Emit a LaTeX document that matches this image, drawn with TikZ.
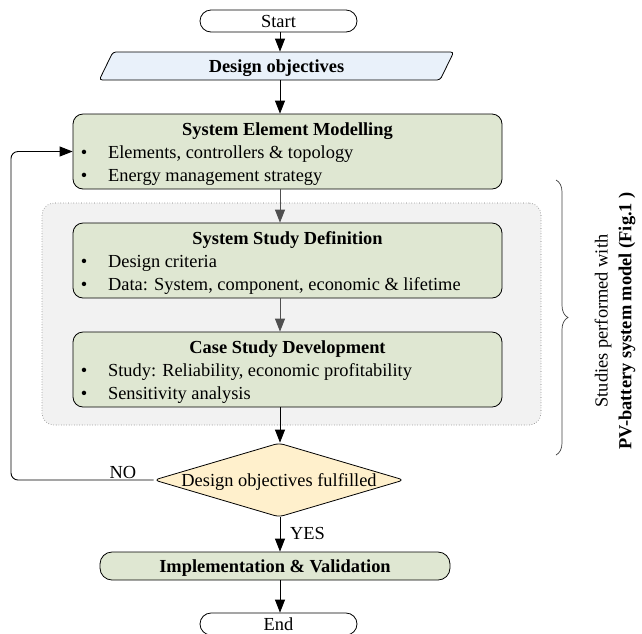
\documentclass[tikz,border=0pt]{standalone}
\usepackage{fontspec}
\setmainfont{Liberation Serif}
\usetikzlibrary{positioning,shapes.geometric,arrows.meta,decorations.pathreplacing}

\definecolor{stagegreen}{HTML}{DFE7D2}
\definecolor{objblue}{HTML}{E9F1FA}
\definecolor{checkyellow}{HTML}{FFF0CC}
\definecolor{groupgray}{HTML}{F2F2F2}
\definecolor{arrowgray}{HTML}{505050}

\newcommand{\mainsize}{\fontsize{18.4}{22}\selectfont}
\newcommand{\itemdot}{\makebox[27.3pt][l]{\textbullet}}

\tikzset{
  terminal/.style={draw, line width=0.8pt, rounded corners=11pt, minimum width=157pt, minimum height=22pt, inner sep=0pt, text height=13pt, text depth=1pt},
  objshape/.style={draw, line width=0.8pt, fill=objblue, trapezium, trapezium left angle=68, trapezium right angle=112, trapezium stretches=true, minimum width=355pt, minimum height=28pt, inner sep=0pt, rounded corners=3pt, text height=13pt, text depth=1pt},
  stagebox/.style={draw, line width=0.8pt, fill=stagegreen, rounded corners=10pt, minimum width=429pt, minimum height=75pt, inner sep=0pt},
  stagetitle/.style={anchor=base, inner sep=0pt, font=\mainsize\bfseries},
  itemline/.style={anchor=base west, inner sep=0pt},
  groupbox/.style={draw=black!55, dotted, line width=0.6pt, fill=groupgray, rounded corners=12pt, minimum width=499pt, minimum height=222pt},
  decision/.style={draw, line width=0.8pt, fill=checkyellow, diamond, minimum width=250pt, minimum height=74pt, inner sep=0pt, rounded corners=5pt},
  implbox/.style={draw, line width=0.8pt, fill=stagegreen, rounded corners=12pt, minimum width=350pt, minimum height=28pt, inner sep=0pt, text height=13pt, text depth=1pt},
  flow/.style={->, line width=0.9pt},
  grayflow/.style={->, line width=0.9pt, draw=arrowgray, fill=arrowgray},
  plain/.style={inner sep=0pt, text height=13pt, text depth=1pt},
}

\begin{document}
\begin{tikzpicture}[x=1pt, y=-1pt, >={Triangle[length=13pt,width=10pt]},
    font=\mainsize]
    \useasboundingbox (0,0) rectangle (642,633);

    % grey frame round the model studies
    \node[groupbox] (group) at (291.5,314) {};

    % main chain
    \node[terminal] (start) at (278.5,21) {Start};
    \node[objshape] (obj) at (276.5,66) {\textbf{Design objectives}};
    \node[stagebox] (sem) at (287.5,151.5) {};
    \node[stagebox] (ssd) at (287.5,260.5) {};
    \node[stagebox] (csd) at (287.5,369.5) {};
    \node[decision] (check) at (279,480) {};
    \node[plain] (checktxt) at (check.center) {Design objectives fulfilled};
    \node[implbox] (impl) at (275,566) {\textbf{Implementation \& Validation}};
    \node[terminal] (end) at (278.5,624) {End};

    % box contents
    \node[stagetitle] (semtitle) at ([yshift=-22pt]sem.north) {System Element Modelling};
    \node[itemline] (semA) at ([xshift=8pt,yshift=-45pt]sem.north west) {\itemdot Elements, controllers \& topology};
    \node[itemline] (semB) at ([xshift=8pt,yshift=-67.5pt]sem.north west) {\itemdot Energy management strategy};

    \node[stagetitle] (ssdtitle) at ([yshift=-22pt]ssd.north) {System Study Definition};
    \node[itemline] (ssdA) at ([xshift=8pt,yshift=-45pt]ssd.north west) {\itemdot Design criteria};
    \node[itemline] (ssdB) at ([xshift=8pt,yshift=-67.5pt]ssd.north west) {\itemdot Data: System, component, economic \& lifetime};

    \node[stagetitle] (csdtitle) at ([yshift=-22pt]csd.north) {Case Study Development};
    \node[itemline] (csdA) at ([xshift=8pt,yshift=-45pt]csd.north west) {\itemdot Study: Reliability, economic profitability};
    \node[itemline] (csdB) at ([xshift=8pt,yshift=-67.5pt]csd.north west) {\itemdot Sensitivity analysis};

    % connectors
    \coordinate (spine) at (280,0);
    \coordinate (loop) at (11,0);
    \draw[flow] (start.south -| spine) -- (obj.north -| spine);
    \draw[flow] (obj.south -| spine) -- (sem.north -| spine);
    \draw[grayflow] (sem.south -| spine) -- (ssd.north -| spine);
    \draw[grayflow] (ssd.south -| spine) -- (csd.north -| spine);
    \draw[flow] (csd.south -| spine) -- (check.north -| spine);
    \draw[flow] (check.south -| spine) -- (impl.north -| spine);
    \draw[flow] (impl.south -| spine) -- (end.north -| spine);
    \draw[flow, rounded corners=7pt] (check.west) -- (check.west -| loop) |- (sem.west);

    \node[plain] (nolbl) at (123,472) {NO};
    \node[plain] (yeslbl) at (307.5,533) {YES};

    % brace and side note
    \coordinate (bracetop) at (556,180);
    \coordinate (bracebot) at (556,455);
    \draw[draw=black!75, line width=0.7pt, decorate, decoration={brace, amplitude=12pt}] (bracetop) -- (bracebot);
    \node[rotate=90] (studies) at (603,321) {Studies performed with};
    \node[rotate=90] (pvmodel) at (627,321) {\textbf{PV-battery system model (Fig.1 )}};
\end{tikzpicture}
\end{document}
